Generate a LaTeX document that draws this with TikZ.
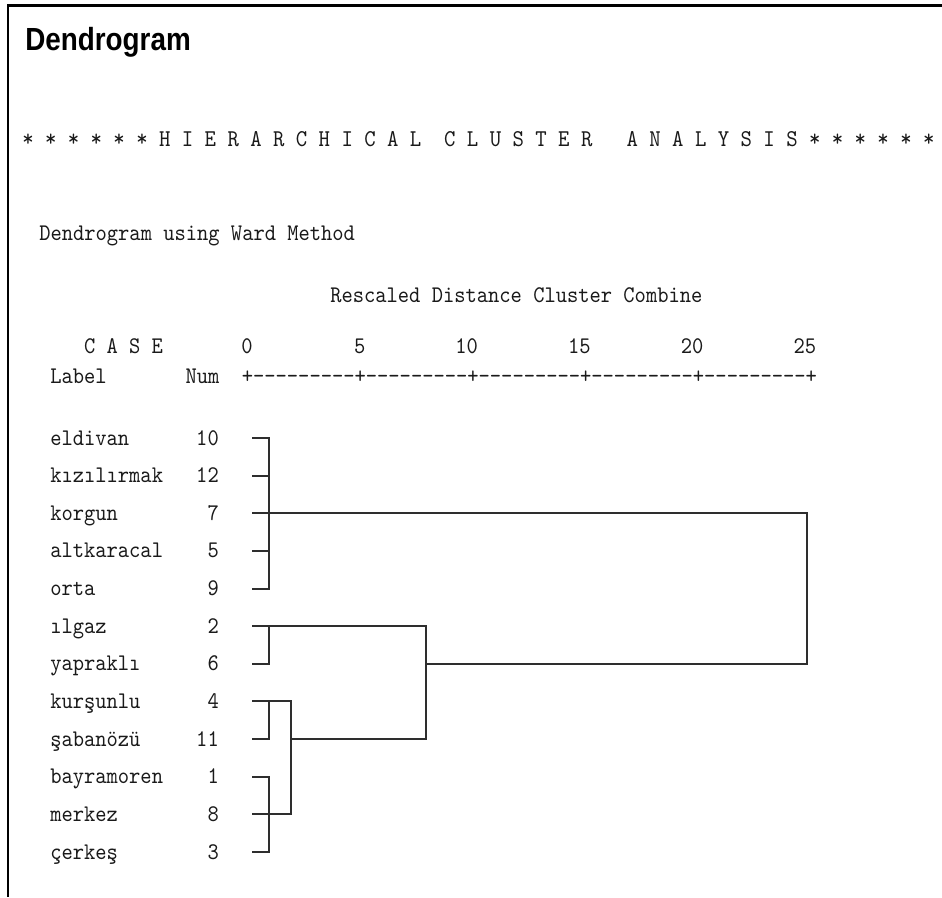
\documentclass[tikz,border=0pt]{standalone}
\usepackage{fontspec}
\usepackage{xcolor}
\usepackage{tikz}
\newfontfamily\headfont[FakeStretch=0.87]{Liberation Sans}
\newfontfamily\listfont[FakeStretch=0.9]{lmmono10-regular.otf}
\definecolor{INK}{HTML}{1A1A1A}
\definecolor{LINK}{HTML}{2E2E2E}

\begin{document}
\begin{tikzpicture}[
    x=0.75pt, y=-0.75pt,
    list/.style={font=\listfont\fontsize{17.9}{21}\selectfont, text=INK, inner sep=0pt},
    rowlabel/.style={list, anchor=base west},
    val/.style={list, anchor=base east},
    head/.style={font=\headfont\bfseries\fontsize{24}{28}\selectfont, inner sep=0pt, anchor=base west},
    branch/.style={draw=LINK, line width=1.5pt},
    frame/.style={draw=black, line width=2pt},
  ]

  \useasboundingbox (0,0) rectangle (942,897);

  \def\cw{11.27}   % one column of the listing
  \def\rh{37.64}   % row pitch

  \draw[frame] (942,5.5) -- (8,5.5) -- (8,897);

  \node[head] (title) at (25,50) {Dendrogram};

  % --- listing header ---
  \node[rowlabel, font=\listfont\fontsize{18.1}{21}\selectfont] (banner) at (22,146)
    {* * * * * * H I E R A R C H I C A L~ C L U S T E R~~ A N A L Y S I S * * * * * *};
  \node[rowlabel] (ward) at (39,240) {Dendrogram using Ward Method};
  \node[rowlabel] (rescaled) at (330,302) {Rescaled Distance Cluster Combine};
  \node[rowlabel] (casehead) at (50+3*\cw,353) {C A S E};
  \node[rowlabel] (labelhead) at (50,383) {Label};
  \node[rowlabel] (numhead) at (50+12*\cw,383) {Num};
  \node[rowlabel] (axis) at (50+17*\cw,383) {+---------+---------+---------+---------+---------+};
  \foreach \v [count=\k from 0] in {0,5,10,15,20,25} {
    \node[val] (tick\v) at (50+18*\cw+10*\k*\cw,353) {\v};
  }

  % --- cases ---
  \foreach \lab/\num [count=\r from 0] in {eldivan/10, kızılırmak/12, korgun/7,
      altkaracal/5, orta/9, ılgaz/2, yapraklı/6, kurşunlu/4, şabanözü/11,
      bayramoren/1, merkez/8, çerkeş/3} {
    \node[rowlabel] (lab\num) at (50,445+\r*\rh) {\lab};
    \node[val] (num\num) at (50+15*\cw,445+\r*\rh) {\num};
    \coordinate (s\num) at (252,438+\r*\rh);
  }

  % merge levels
  \coordinate (ca) at (269,0);
  \coordinate (cb) at (291,0);
  \coordinate (cc) at (426,0);
  \coordinate (cd) at (807,0);

  % --- tree ---
  \draw[branch] (s10) -- (s10 -| ca) -- (s9 -| ca) -- (s9);
  \foreach \n in {12,5} \draw[branch] (s\n) -- (s\n -| ca);
  \draw[branch] (s7) -- (s7 -| cd) -- (s6 -| cd) -- (s6 -| cc);

  \draw[branch] (s2) -- (s2 -| cc) -- (s11 -| cc) -- (s11 -| cb);
  \draw[branch] (s6) -- (s6 -| ca) -- (s2 -| ca);

  \draw[branch] (s4) -- (s4 -| cb) -- (s8 -| cb) -- (s8);
  \draw[branch] (s11) -- (s11 -| ca) -- (s4 -| ca);
  \draw[branch] (s1) -- (s1 -| ca) -- (s3 -| ca) -- (s3);

\end{tikzpicture}
\end{document}
